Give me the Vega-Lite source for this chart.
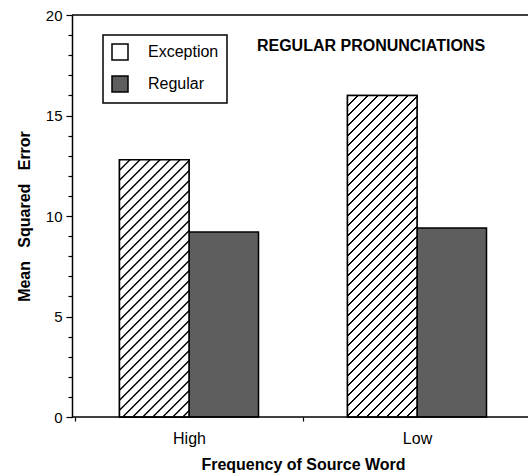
{
"$schema": "https://vega.github.io/schema/vega-lite/v6.json",
"autosize": "none",
"width": 456,
"height": 402,
"padding": {"left": 72, "top": 15, "right": 0, "bottom": 57},
"background": "white",
"config": {
  "view": {"stroke": null},
  "font": "Liberation Sans",
  "axis": {"domainColor": "#000", "tickColor": "#000", "labelColor": "#000", "titleColor": "#000", "domainWidth": 1.5, "tickWidth": 1.2, "grid": false}
},
"data": {"values": [
  {"freq": "High", "type": "Exception", "mse": 12.8},
  {"freq": "High", "type": "Regular", "mse": 9.2},
  {"freq": "Low", "type": "Exception", "mse": 16.0},
  {"freq": "Low", "type": "Regular", "mse": 9.4}
]},
"layer": [
  {
    "mark": {"type": "bar", "stroke": "#000", "strokeWidth": 1.5},
    "encoding": {
      "x": {"field": "freq", "type": "nominal", "scale": {"range": [3, 459], "paddingInner": 0, "paddingOuter": 0},
        "axis": {"title": "Frequency of Source Word", "titleFontSize": 16, "titleFontWeight": "bold", "titlePadding": 10, "labelFontSize": 16, "labelAngle": 0, "labelPadding": 9, "tickBand": "extent", "tickSize": 4, "domain": false}},
      "xOffset": {"field": "type", "type": "nominal", "scale": {"paddingInner": 0, "paddingOuter": 0.64}},
      "y": {"field": "mse", "type": "quantitative", "scale": {"domain": [0, 20], "nice": false},
        "axis": {"title": "Mean\u00a0\u00a0 Squared\u00a0\u00a0 Error", "titleFontSize": 16, "titleFontWeight": "bold", "titlePadding": 13,
          "values": [0,1,2,3,4,5,6,7,8,9,10,11,12,13,14,15,16,17,18,19,20],
          "tickCount": 30,
          "format": "d",
          "labelExpr": "datum.value % 5 === 0 ? datum.label : ''",
          "labelOverlap": false,
          "tickSize": {"condition": {"test": "datum.value % 5 === 0", "value": 6}, "value": 4},
          "labelFontSize": 15, "labelPadding": 4}},
      "fill": {"field": "type", "type": "nominal", "scale": {"range": ["#ffffff", "#5e5e5e"]},
        "legend": {"title": null, "orient": "none", "legendX": 31, "legendY": 20, "direction": "vertical",
          "strokeColor": "#000", "fillColor": "#fff", "padding": 8, "symbolType": "square", "symbolSize": 256,
          "symbolStrokeColor": "#000", "symbolStrokeWidth": 1.5, "labelFontSize": 16, "labelColor": "#000", "labelOffset": 19, "rowPadding": 10,
          "encode": {
            "legend": {"update": {"strokeWidth": {"value": 1.5}}},
            "symbols": {"update": {"stroke": {"value": "#000"}, "strokeWidth": {"value": 1.5}}}}}}
    }
  },
  {
    "transform": [{"filter": "datum.type === 'Exception' && datum.freq === 'High'"}],
    "mark": {"type": "bar", "stroke": "#000", "strokeWidth": 1.5,
      "fill": {"gradient": "linear", "x1": 0, "y1": 0, "x2": 0.3913, "y2": 1.4489, "stops": [
{"offset":0,"color":"#000"},{"offset":0.003,"color":"#000"},{"offset":0.005,"color":"#fff"},{"offset":0.023,"color":"#fff"},
{"offset":0.025,"color":"#000"},{"offset":0.028,"color":"#000"},{"offset":0.03,"color":"#fff"},{"offset":0.048,"color":"#fff"},
{"offset":0.05,"color":"#000"},{"offset":0.053,"color":"#000"},{"offset":0.055,"color":"#fff"},{"offset":0.073,"color":"#fff"},
{"offset":0.075,"color":"#000"},{"offset":0.078,"color":"#000"},{"offset":0.08,"color":"#fff"},{"offset":0.098,"color":"#fff"},
{"offset":0.1,"color":"#000"},{"offset":0.103,"color":"#000"},{"offset":0.105,"color":"#fff"},{"offset":0.123,"color":"#fff"},
{"offset":0.125,"color":"#000"},{"offset":0.128,"color":"#000"},{"offset":0.13,"color":"#fff"},{"offset":0.148,"color":"#fff"},
{"offset":0.15,"color":"#000"},{"offset":0.153,"color":"#000"},{"offset":0.155,"color":"#fff"},{"offset":0.173,"color":"#fff"},
{"offset":0.175,"color":"#000"},{"offset":0.178,"color":"#000"},{"offset":0.18,"color":"#fff"},{"offset":0.198,"color":"#fff"},
{"offset":0.2,"color":"#000"},{"offset":0.203,"color":"#000"},{"offset":0.205,"color":"#fff"},{"offset":0.223,"color":"#fff"},
{"offset":0.225,"color":"#000"},{"offset":0.228,"color":"#000"},{"offset":0.23,"color":"#fff"},{"offset":0.248,"color":"#fff"},
{"offset":0.25,"color":"#000"},{"offset":0.253,"color":"#000"},{"offset":0.255,"color":"#fff"},{"offset":0.273,"color":"#fff"},
{"offset":0.275,"color":"#000"},{"offset":0.278,"color":"#000"},{"offset":0.28,"color":"#fff"},{"offset":0.298,"color":"#fff"},
{"offset":0.3,"color":"#000"},{"offset":0.303,"color":"#000"},{"offset":0.305,"color":"#fff"},{"offset":0.323,"color":"#fff"},
{"offset":0.325,"color":"#000"},{"offset":0.328,"color":"#000"},{"offset":0.33,"color":"#fff"},{"offset":0.348,"color":"#fff"},
{"offset":0.35,"color":"#000"},{"offset":0.353,"color":"#000"},{"offset":0.355,"color":"#fff"},{"offset":0.373,"color":"#fff"},
{"offset":0.375,"color":"#000"},{"offset":0.378,"color":"#000"},{"offset":0.38,"color":"#fff"},{"offset":0.398,"color":"#fff"},
{"offset":0.4,"color":"#000"},{"offset":0.403,"color":"#000"},{"offset":0.405,"color":"#fff"},{"offset":0.423,"color":"#fff"},
{"offset":0.425,"color":"#000"},{"offset":0.428,"color":"#000"},{"offset":0.43,"color":"#fff"},{"offset":0.448,"color":"#fff"},
{"offset":0.45,"color":"#000"},{"offset":0.453,"color":"#000"},{"offset":0.455,"color":"#fff"},{"offset":0.473,"color":"#fff"},
{"offset":0.475,"color":"#000"},{"offset":0.478,"color":"#000"},{"offset":0.48,"color":"#fff"},{"offset":0.498,"color":"#fff"},
{"offset":0.5,"color":"#000"},{"offset":0.503,"color":"#000"},{"offset":0.505,"color":"#fff"},{"offset":0.523,"color":"#fff"},
{"offset":0.525,"color":"#000"},{"offset":0.528,"color":"#000"},{"offset":0.53,"color":"#fff"},{"offset":0.548,"color":"#fff"},
{"offset":0.55,"color":"#000"},{"offset":0.553,"color":"#000"},{"offset":0.555,"color":"#fff"},{"offset":0.573,"color":"#fff"},
{"offset":0.575,"color":"#000"},{"offset":0.578,"color":"#000"},{"offset":0.58,"color":"#fff"},{"offset":0.598,"color":"#fff"},
{"offset":0.6,"color":"#000"},{"offset":0.603,"color":"#000"},{"offset":0.605,"color":"#fff"},{"offset":0.623,"color":"#fff"},
{"offset":0.625,"color":"#000"},{"offset":0.628,"color":"#000"},{"offset":0.63,"color":"#fff"},{"offset":0.648,"color":"#fff"},
{"offset":0.65,"color":"#000"},{"offset":0.653,"color":"#000"},{"offset":0.655,"color":"#fff"},{"offset":0.673,"color":"#fff"},
{"offset":0.675,"color":"#000"},{"offset":0.678,"color":"#000"},{"offset":0.68,"color":"#fff"},{"offset":0.698,"color":"#fff"},
{"offset":0.7,"color":"#000"},{"offset":0.703,"color":"#000"},{"offset":0.705,"color":"#fff"},{"offset":0.723,"color":"#fff"},
{"offset":0.725,"color":"#000"},{"offset":0.728,"color":"#000"},{"offset":0.73,"color":"#fff"},{"offset":0.748,"color":"#fff"},
{"offset":0.75,"color":"#000"},{"offset":0.753,"color":"#000"},{"offset":0.755,"color":"#fff"},{"offset":0.773,"color":"#fff"},
{"offset":0.775,"color":"#000"},{"offset":0.778,"color":"#000"},{"offset":0.78,"color":"#fff"},{"offset":0.798,"color":"#fff"},
{"offset":0.8,"color":"#000"},{"offset":0.803,"color":"#000"},{"offset":0.805,"color":"#fff"},{"offset":0.823,"color":"#fff"},
{"offset":0.825,"color":"#000"},{"offset":0.828,"color":"#000"},{"offset":0.83,"color":"#fff"},{"offset":0.848,"color":"#fff"},
{"offset":0.85,"color":"#000"},{"offset":0.853,"color":"#000"},{"offset":0.855,"color":"#fff"},{"offset":0.873,"color":"#fff"},
{"offset":0.875,"color":"#000"},{"offset":0.878,"color":"#000"},{"offset":0.88,"color":"#fff"},{"offset":0.898,"color":"#fff"},
{"offset":0.9,"color":"#000"},{"offset":0.903,"color":"#000"},{"offset":0.905,"color":"#fff"},{"offset":0.923,"color":"#fff"},
{"offset":0.925,"color":"#000"},{"offset":0.928,"color":"#000"},{"offset":0.93,"color":"#fff"},{"offset":0.948,"color":"#fff"},
{"offset":0.95,"color":"#000"},{"offset":0.953,"color":"#000"},{"offset":0.955,"color":"#fff"},{"offset":0.973,"color":"#fff"},
{"offset":0.975,"color":"#000"},{"offset":0.978,"color":"#000"},{"offset":0.98,"color":"#fff"},{"offset":0.998,"color":"#fff"}
      ]}},
    "encoding": {
      "x": {"field": "freq", "type": "nominal"},
      "xOffset": {"field": "type", "type": "nominal"},
      "y": {"field": "mse", "type": "quantitative"}
    }
  },
  {
    "transform": [{"filter": "datum.type === 'Exception' && datum.freq === 'Low'"}],
    "mark": {"type": "bar", "stroke": "#000", "strokeWidth": 1.5,
      "fill": {"gradient": "linear", "x1": 0, "y1": 0, "x2": 0.2567, "y2": 1.188, "stops": [
{"offset":0,"color":"#000"},{"offset":0.003,"color":"#000"},{"offset":0.005,"color":"#fff"},{"offset":0.023,"color":"#fff"},
{"offset":0.025,"color":"#000"},{"offset":0.028,"color":"#000"},{"offset":0.03,"color":"#fff"},{"offset":0.048,"color":"#fff"},
{"offset":0.05,"color":"#000"},{"offset":0.053,"color":"#000"},{"offset":0.055,"color":"#fff"},{"offset":0.073,"color":"#fff"},
{"offset":0.075,"color":"#000"},{"offset":0.078,"color":"#000"},{"offset":0.08,"color":"#fff"},{"offset":0.098,"color":"#fff"},
{"offset":0.1,"color":"#000"},{"offset":0.103,"color":"#000"},{"offset":0.105,"color":"#fff"},{"offset":0.123,"color":"#fff"},
{"offset":0.125,"color":"#000"},{"offset":0.128,"color":"#000"},{"offset":0.13,"color":"#fff"},{"offset":0.148,"color":"#fff"},
{"offset":0.15,"color":"#000"},{"offset":0.153,"color":"#000"},{"offset":0.155,"color":"#fff"},{"offset":0.173,"color":"#fff"},
{"offset":0.175,"color":"#000"},{"offset":0.178,"color":"#000"},{"offset":0.18,"color":"#fff"},{"offset":0.198,"color":"#fff"},
{"offset":0.2,"color":"#000"},{"offset":0.203,"color":"#000"},{"offset":0.205,"color":"#fff"},{"offset":0.223,"color":"#fff"},
{"offset":0.225,"color":"#000"},{"offset":0.228,"color":"#000"},{"offset":0.23,"color":"#fff"},{"offset":0.248,"color":"#fff"},
{"offset":0.25,"color":"#000"},{"offset":0.253,"color":"#000"},{"offset":0.255,"color":"#fff"},{"offset":0.273,"color":"#fff"},
{"offset":0.275,"color":"#000"},{"offset":0.278,"color":"#000"},{"offset":0.28,"color":"#fff"},{"offset":0.298,"color":"#fff"},
{"offset":0.3,"color":"#000"},{"offset":0.303,"color":"#000"},{"offset":0.305,"color":"#fff"},{"offset":0.323,"color":"#fff"},
{"offset":0.325,"color":"#000"},{"offset":0.328,"color":"#000"},{"offset":0.33,"color":"#fff"},{"offset":0.348,"color":"#fff"},
{"offset":0.35,"color":"#000"},{"offset":0.353,"color":"#000"},{"offset":0.355,"color":"#fff"},{"offset":0.373,"color":"#fff"},
{"offset":0.375,"color":"#000"},{"offset":0.378,"color":"#000"},{"offset":0.38,"color":"#fff"},{"offset":0.398,"color":"#fff"},
{"offset":0.4,"color":"#000"},{"offset":0.403,"color":"#000"},{"offset":0.405,"color":"#fff"},{"offset":0.423,"color":"#fff"},
{"offset":0.425,"color":"#000"},{"offset":0.428,"color":"#000"},{"offset":0.43,"color":"#fff"},{"offset":0.448,"color":"#fff"},
{"offset":0.45,"color":"#000"},{"offset":0.453,"color":"#000"},{"offset":0.455,"color":"#fff"},{"offset":0.473,"color":"#fff"},
{"offset":0.475,"color":"#000"},{"offset":0.478,"color":"#000"},{"offset":0.48,"color":"#fff"},{"offset":0.498,"color":"#fff"},
{"offset":0.5,"color":"#000"},{"offset":0.503,"color":"#000"},{"offset":0.505,"color":"#fff"},{"offset":0.523,"color":"#fff"},
{"offset":0.525,"color":"#000"},{"offset":0.528,"color":"#000"},{"offset":0.53,"color":"#fff"},{"offset":0.548,"color":"#fff"},
{"offset":0.55,"color":"#000"},{"offset":0.553,"color":"#000"},{"offset":0.555,"color":"#fff"},{"offset":0.573,"color":"#fff"},
{"offset":0.575,"color":"#000"},{"offset":0.578,"color":"#000"},{"offset":0.58,"color":"#fff"},{"offset":0.598,"color":"#fff"},
{"offset":0.6,"color":"#000"},{"offset":0.603,"color":"#000"},{"offset":0.605,"color":"#fff"},{"offset":0.623,"color":"#fff"},
{"offset":0.625,"color":"#000"},{"offset":0.628,"color":"#000"},{"offset":0.63,"color":"#fff"},{"offset":0.648,"color":"#fff"},
{"offset":0.65,"color":"#000"},{"offset":0.653,"color":"#000"},{"offset":0.655,"color":"#fff"},{"offset":0.673,"color":"#fff"},
{"offset":0.675,"color":"#000"},{"offset":0.678,"color":"#000"},{"offset":0.68,"color":"#fff"},{"offset":0.698,"color":"#fff"},
{"offset":0.7,"color":"#000"},{"offset":0.703,"color":"#000"},{"offset":0.705,"color":"#fff"},{"offset":0.723,"color":"#fff"},
{"offset":0.725,"color":"#000"},{"offset":0.728,"color":"#000"},{"offset":0.73,"color":"#fff"},{"offset":0.748,"color":"#fff"},
{"offset":0.75,"color":"#000"},{"offset":0.753,"color":"#000"},{"offset":0.755,"color":"#fff"},{"offset":0.773,"color":"#fff"},
{"offset":0.775,"color":"#000"},{"offset":0.778,"color":"#000"},{"offset":0.78,"color":"#fff"},{"offset":0.798,"color":"#fff"},
{"offset":0.8,"color":"#000"},{"offset":0.803,"color":"#000"},{"offset":0.805,"color":"#fff"},{"offset":0.823,"color":"#fff"},
{"offset":0.825,"color":"#000"},{"offset":0.828,"color":"#000"},{"offset":0.83,"color":"#fff"},{"offset":0.848,"color":"#fff"},
{"offset":0.85,"color":"#000"},{"offset":0.853,"color":"#000"},{"offset":0.855,"color":"#fff"},{"offset":0.873,"color":"#fff"},
{"offset":0.875,"color":"#000"},{"offset":0.878,"color":"#000"},{"offset":0.88,"color":"#fff"},{"offset":0.898,"color":"#fff"},
{"offset":0.9,"color":"#000"},{"offset":0.903,"color":"#000"},{"offset":0.905,"color":"#fff"},{"offset":0.923,"color":"#fff"},
{"offset":0.925,"color":"#000"},{"offset":0.928,"color":"#000"},{"offset":0.93,"color":"#fff"},{"offset":0.948,"color":"#fff"},
{"offset":0.95,"color":"#000"},{"offset":0.953,"color":"#000"},{"offset":0.955,"color":"#fff"},{"offset":0.973,"color":"#fff"},
{"offset":0.975,"color":"#000"},{"offset":0.978,"color":"#000"},{"offset":0.98,"color":"#fff"},{"offset":0.998,"color":"#fff"}
      ]}},
    "encoding": {
      "x": {"field": "freq", "type": "nominal"},
      "xOffset": {"field": "type", "type": "nominal"},
      "y": {"field": "mse", "type": "quantitative"}
    }
  },
  {
    "data": {"values": [{"v": 20}, {"v": 0}]},
    "mark": {"type": "rule", "color": "#000", "strokeWidth": 1.5},
    "encoding": {"y": {"field": "v", "type": "quantitative"}}
  },
  {
    "data": {"values": [{"label": "REGULAR PRONUNCIATIONS"}]},
    "mark": {"type": "text", "fontSize": 16, "fontWeight": "bold", "dx": -46, "align": "center", "baseline": "middle", "color": "#000"},
    "encoding": {
      "x": {"datum": "Low"},
      "y": {"datum": 18.46},
      "text": {"field": "label"}
    }
  }
]
}
